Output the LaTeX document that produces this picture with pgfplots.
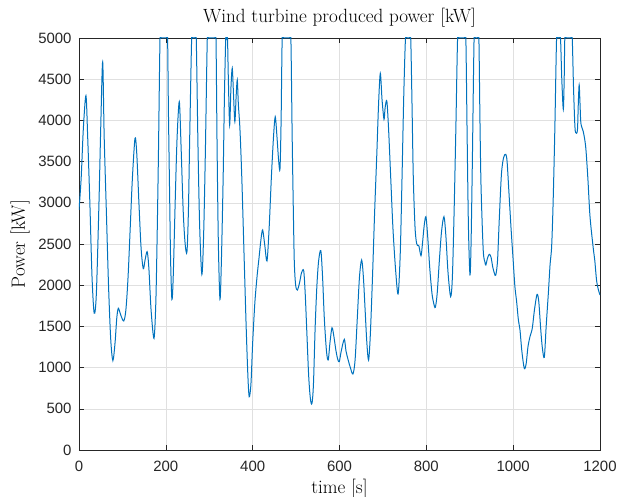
\documentclass[border=0pt]{standalone}
\usepackage{fontspec}
\usepackage{pgfplots}
\pgfplotsset{compat=1.18}
\newfontfamily\tickfont{Liberation Sans}
\definecolor{mblue}{rgb}{0,0.447,0.741}
\definecolor{axgray}{rgb}{0.15,0.15,0.15}
\begin{document}
\begin{tikzpicture}
\useasboundingbox (-79bp,-47bp) rectangle (540bp,450bp);
\begin{axis}[at={(0,0)}, anchor=south west, scale only axis,
  width=521bp, height=412bp,
  xmin=0, xmax=1200, ymin=0, ymax=5000,
  clip=false,
  xtick={0,200,...,1200}, ytick={0,500,...,5000},
  scaled ticks=false,
  /pgf/number format/assume math mode=true,
  /pgf/number format/1000 sep={},
  grid=major, major grid style={black!12, line width=0.5bp},
  tick align=inside, tick pos=both, major tick length=5bp,
  axis line style={axgray, line width=0.6bp}, tick style={axgray, line width=0.6bp},
  ticklabel style={font=\fontsize{15}{18}\tickfont, text=axgray},
  xticklabel style={anchor=base, inner sep=0pt, yshift=-21.7bp},
  yticklabel style={anchor=east, inner sep=0pt, xshift=-7.3bp},
  title={Wind turbine produced power [kW]},
  title style={font=\fontsize{19.2}{22}\selectfont, at={(axis description cs:0.5,1)}, anchor=base, yshift=10bp, inner sep=0pt},
  xlabel={time [s]},
  xlabel style={font=\fontsize{19.2}{22}\selectfont, at={(axis description cs:0.5,0)}, anchor=base, yshift=-43bp, inner sep=0pt},
  ylabel={Power [kW]},
  ylabel style={font=\fontsize{19.2}{22}\selectfont, at={(axis description cs:0,0.5)}, anchor=base, yshift=54bp, inner sep=0pt},
]
\clip (rel axis cs:0,0) rectangle ([yshift=0.5bp]rel axis cs:1,1);
\addplot[mblue, line width=1bp, smooth, tension=0.5] coordinates {
(0,2913) (5,3300) (10,3900) (16,4300) (20,3800) (25,3000) (30,2100) (35,1660)
(40,1900) (46,3000) (50,3900) (54.5,4710) (58,3800) (63,2900) (68,2000) (73,1350)
(78,1085) (83,1300) (87,1600) (90.6,1720) (96,1640) (103,1566) (108,1700) (113,2100)
(118,2700) (123,3300) (129,3783) (133,3600) (138,3000) (143,2450) (148,2200) (152,2300)
(157,2407) (161,2200) (166,1700) (172.7,1355) (177,1800) (180,2600) (183,3600)
(186.6,5000) (189,5000) (201.5,5000) (204,5000) (206,4100) (209,3000) (211,2300) (214,1828)
(217,2100) (222,3100) (226,3800) (231,4227) (235,3700) (240,2900) (244.5,2500) (248.7,2407)
(252,2900) (255,3800) (259.5,5000) (262,5000) (267,5000) (270,5000) (274,3700) (278,2700) (283,2132)
(287,2600) (291,3600) (295.5,5000) (298,5000) (313,5000) (315.5,5000) (318,3700) (321,2500) (324.7,1828)
(328,2300) (332,3300) (335,4300) (338,5000) (340,5000) (342,5000) (344,4500) (347,3944)
(350,4400) (353,4632) (356,4300) (359,3985) (362,4300) (364.6,4490) (367,4200) (370.8,3883)
(375,3300) (380,2400) (385,1500) (389,900) (392,647) (396,800) (400,1300) (405,1784)
(410,2100) (415,2350) (419,2550) (423,2670) (428,2480) (433,2294) (438,2700) (443,3300)
(448,3800) (452,4045) (456,3800) (460,3500) (463,3418) (465.5,4000) (468,5000) (471,5000) (485,5000) (488,5000)
(491,3800) (494,2800) (496,2265) (499,2000) (503,1942) (508,2030) (512.5,2150) (517.5,2176)
(521,1900) (525,1400) (529,900) (533,620) (536.6,566) (540,800) (544,1500) (548,2000)
(552,2300) (557,2419) (561,2100) (565,1600) (570,1200) (574,1092) (578,1300) (582.7,1484)
(587,1380) (592,1200) (596,1100) (599.5,1072) (604,1200) (611,1343) (615,1200) (620,1092)
(625,1000) (631,922) (636,1100) (641,1600) (646,2100) (651,2306) (655,2100) (659,1700)
(663,1300) (667,1092) (671,1400) (676,2100) (681,2900) (686,3600) (690,4200) (694,4571)
(698,4250) (702.5,4013) (705,4150) (709,4235) (713,3900) (718,3300) (723,2700) (729,2200)
(735,1893) (740,2400) (744,3300) (748,4300) (752,5000) (755,5000) (761,5000) (764,5000) (767,4200) (770,3300)
(774,2700) (777.6,2508) (781,2480) (783,2475) (787.7,2358) (791,2500) (795,2720) (799,2832)
(803,2600) (808,2200) (813,1900) (817,1780) (820.7,1731) (825,1900) (830,2300) (835,2650)
(840.6,2832) (845,2600) (850,2150) (856,1861) (860,2100) (864,2900) (868,3900) (872,5000)
(875,5000) (888,5000) (891,5000) (894,3800) (897,2700) (900.5,2124) (903,2500) (906,3500) (910,5000)
(913,5000) (918,5000) (921,5000) (923.5,4000) (926,3200) (931,2427) (935,2280) (937,2245) (941,2330)
(945,2375) (949,2340) (953,2220) (957,2140) (960,2124) (964,2300) (968,2800) (973,3350)
(978,3550) (983,3588) (986,3500) (990,3150) (995,2700) (1000,2300) (1004,1982) (1008,1800)
(1012,1578) (1015.7,1456) (1020,1200) (1025.6,991) (1030,1050) (1034,1250) (1038.7,1375) (1044,1477)
(1049,1700) (1055,1889) (1059,1800) (1063,1500) (1067,1250) (1071.7,1125) (1076,1500) (1081,1900)
(1085,2250) (1088.6,2468) (1092,3000) (1096,3900) (1100,5000) (1103,5000) (1106,5000) (1109,5000) (1112,4500)
(1115.5,4134) (1117.5,4500) (1119,5000) (1122,5000) (1133,5000) (1136,5000) (1139,4400) (1142,3950) (1144,3851)
(1148,3880) (1150,4200) (1152,4430) (1154,4200) (1156,3964) (1161.5,3863) (1167,3681) (1172,3300)
(1177,2832) (1184.5,2447) (1188,2300) (1192,2063) (1196,1950) (1200,1881)
};
\end{axis}
\end{tikzpicture}
\end{document}
